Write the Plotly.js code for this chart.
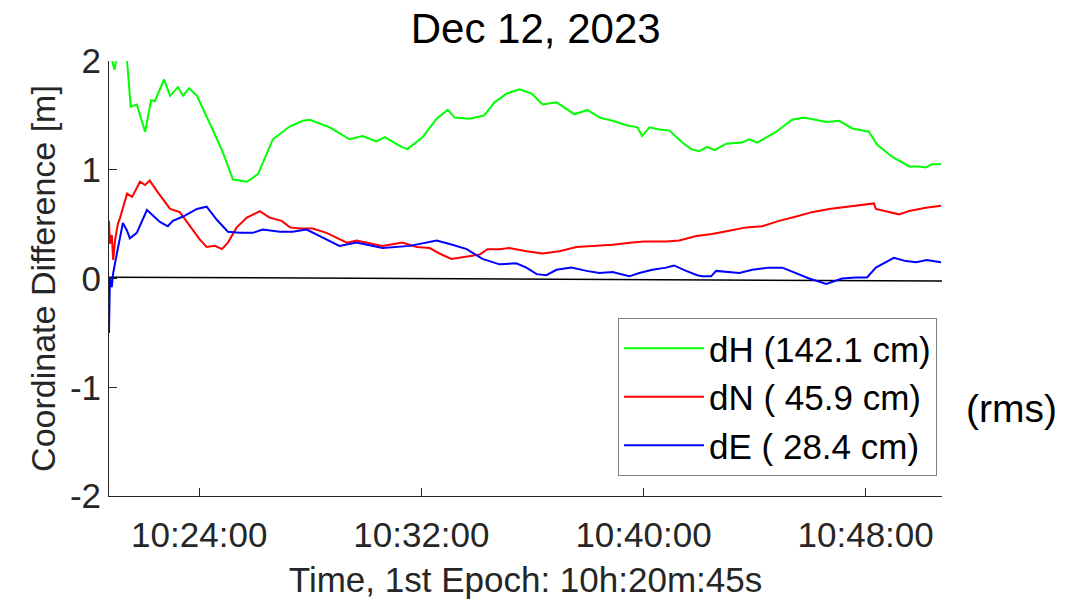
<!DOCTYPE html>
<html>
<head>
<meta charset="utf-8">
<script src="https://cdn.plot.ly/plotly-3.0.1.min.js"></script>
<style>html,body{margin:0;padding:0;background:#fff;}#chart{width:1091px;height:600px;}</style>
</head>
<body>
<div id="chart"></div>
<script>
// Seconds after first epoch (10:20:45) and coordinate differences in metres
const firstEpoch = "10:20:45";
const dateStr = "2023-12-12";

const dH_t = [0, 8, 12, 15, 18, 30, 39, 47, 60, 67, 78, 91, 99, 119, 132, 149, 160, 173, 190, 224, 246, 268, 298, 322, 354, 391, 419, 434, 477, 492, 520, 548, 578, 596, 632, 645, 678, 708, 732, 747, 779, 811, 833, 859, 887, 913, 937, 967, 1006, 1034, 1060, 1088, 1118, 1142, 1152, 1168, 1189, 1211, 1239, 1258, 1275, 1293, 1308, 1334, 1368, 1383, 1401, 1442, 1476, 1502, 1528, 1550, 1578, 1606, 1642, 1660, 1692, 1729, 1750, 1765, 1778, 1798];
const dH_v = [2.2, 1.98, 1.92, 2.0, 2.2, 2.15, 2.0, 1.58, 1.60, 1.50, 1.35, 1.64, 1.63, 1.83, 1.68, 1.76, 1.68, 1.75, 1.68, 1.37, 1.16, 0.91, 0.89, 0.96, 1.28, 1.40, 1.45, 1.46, 1.39, 1.35, 1.28, 1.31, 1.26, 1.30, 1.21, 1.19, 1.30, 1.47, 1.55, 1.48, 1.47, 1.50, 1.62, 1.70, 1.74, 1.70, 1.60, 1.62, 1.51, 1.55, 1.48, 1.45, 1.41, 1.39, 1.31, 1.39, 1.37, 1.36, 1.25, 1.19, 1.17, 1.21, 1.18, 1.24, 1.25, 1.28, 1.25, 1.35, 1.46, 1.48, 1.46, 1.44, 1.45, 1.38, 1.35, 1.23, 1.12, 1.03, 1.03, 1.02, 1.05, 1.05];

const dN_t = [0, 2, 6, 9, 13, 19, 24, 39, 50, 67, 78, 88, 106, 132, 153, 175, 196, 211, 229, 244, 257, 276, 298, 326, 347, 373, 391, 412, 440, 470, 514, 535, 557, 591, 634, 665, 693, 714, 740, 773, 801, 818, 844, 865, 902, 937, 973, 1010, 1045, 1088, 1131, 1157, 1204, 1232, 1269, 1303, 1340, 1377, 1411, 1448, 1485, 1519, 1556, 1593, 1627, 1653, 1657, 1685, 1707, 1729, 1765, 1798];
const dN_v = [0.53, 0.32, 0.40, 0.17, 0.35, 0.50, 0.56, 0.78, 0.75, 0.89, 0.86, 0.90, 0.79, 0.64, 0.61, 0.48, 0.36, 0.29, 0.30, 0.27, 0.33, 0.47, 0.56, 0.62, 0.56, 0.53, 0.47, 0.46, 0.46, 0.42, 0.33, 0.35, 0.33, 0.30, 0.33, 0.29, 0.28, 0.23, 0.18, 0.20, 0.22, 0.27, 0.27, 0.28, 0.25, 0.23, 0.25, 0.29, 0.30, 0.31, 0.33, 0.34, 0.34, 0.35, 0.39, 0.41, 0.44, 0.47, 0.48, 0.53, 0.57, 0.61, 0.64, 0.66, 0.68, 0.69, 0.64, 0.61, 0.59, 0.62, 0.65, 0.67];

const dE_t = [0, 2, 6, 9, 17, 30, 39, 45, 60, 71, 82, 95, 110, 127, 138, 160, 190, 211, 233, 257, 283, 311, 332, 369, 397, 427, 470, 498, 535, 591, 650, 708, 742, 773, 807, 844, 880, 902, 924, 945, 967, 999, 1032, 1060, 1088, 1124, 1146, 1174, 1204, 1221, 1247, 1271, 1282, 1301, 1312, 1340, 1362, 1390, 1426, 1455, 1485, 1513, 1550, 1584, 1614, 1638, 1657, 1696, 1722, 1744, 1767, 1798];
const dE_v = [-0.50, 0.01, -0.08, 0.05, 0.23, 0.51, 0.44, 0.37, 0.42, 0.53, 0.63, 0.58, 0.52, 0.48, 0.53, 0.57, 0.64, 0.66, 0.54, 0.43, 0.42, 0.42, 0.45, 0.43, 0.43, 0.45, 0.36, 0.30, 0.33, 0.28, 0.30, 0.35, 0.31, 0.27, 0.18, 0.13, 0.14, 0.10, 0.04, 0.03, 0.08, 0.10, 0.07, 0.05, 0.06, 0.02, 0.05, 0.08, 0.10, 0.12, 0.07, 0.03, 0.02, 0.02, 0.07, 0.06, 0.05, 0.08, 0.10, 0.10, 0.05, 0.00, -0.05, 0.00, 0.01, 0.01, 0.10, 0.19, 0.16, 0.15, 0.17, 0.15];

const ref_t = [0, 1800];
const ref_v = [0.012, -0.023];

const seriesNames = ["dH (142.1 cm)", "dN ( 45.9 cm)", "dE ( 28.4 cm)"];
const tickTimes = ["10:24:00", "10:32:00", "10:40:00", "10:48:00"];
const yTicks = [-2, -1, 0, 1, 2];
const yTickText = ["-2", "-1", "0", "1", "2"];

function pad(n){ return (n < 10 ? "0" : "") + n; }
function toDate(sec){
  const p = firstEpoch.split(":").map(Number);
  const tot = p[0]*3600 + p[1]*60 + p[2] + sec;
  const h = Math.floor(tot/3600), m = Math.floor((tot%3600)/60), s = tot%60;
  return dateStr + " " + pad(h) + ":" + pad(m) + ":" + pad(s);
}

const font = "Liberation Sans, Arial, sans-serif";
const traces = [
  {x: ref_t.map(toDate), y: ref_v, mode: "lines", line: {color: "#000000", width: 1.5}, showlegend: false, hoverinfo: "skip"},
  {x: dH_t.map(toDate), y: dH_v, mode: "lines", name: seriesNames[0], line: {color: "#00ff00", width: 2}},
  {x: dN_t.map(toDate), y: dN_v, mode: "lines", name: seriesNames[1], line: {color: "#ff0000", width: 2}},
  {x: dE_t.map(toDate), y: dE_v, mode: "lines", name: seriesNames[2], line: {color: "#0000ff", width: 2}}
];

const layout = {
  width: 1091, height: 600,
  margin: {l: 109, r: 149, t: 61, b: 104},
  paper_bgcolor: "#ffffff", plot_bgcolor: "#ffffff",
  font: {family: font, color: "#262626", size: 35},
  title: {text: "Dec 12, 2023", font: {family: font, size: 42, color: "#000000"}, xref: "container", x: 0.491, yref: "container", y: 0.953, yanchor: "middle"},
  xaxis: {
    type: "date",
    range: [toDate(0), toDate(1800)],
    tickvals: tickTimes.map(t => dateStr + " " + t),
    ticktext: tickTimes,
    ticks: "inside", ticklen: 8, tickcolor: "#262626",
    ticklabelstandoff: 8,
    showline: true, linecolor: "#262626", linewidth: 1,
    showgrid: false, zeroline: false,
    tickfont: {size: 35, color: "#262626"},
    title: {text: "Time, 1st Epoch: 10h:20m:45s", font: {size: 35, color: "#262626"}, standoff: 14}
  },
  yaxis: {
    range: [-2, 2],
    tickvals: yTicks,
    ticktext: yTickText,
    ticks: "inside", ticklen: 8, tickcolor: "#262626",
    showline: true, linecolor: "#262626", linewidth: 1,
    showgrid: false, zeroline: false,
    tickfont: {size: 35, color: "#262626"},
    title: {text: "Coordinate Difference [m]", font: {size: 34, color: "#262626"}, standoff: 3}
  },
  legend: {
    x: 0.994, xanchor: "right", y: 0.046, yanchor: "bottom",
    bgcolor: "#ffffff", bordercolor: "#7f7f7f", borderwidth: 1,
    font: {family: font, size: 35, color: "#000000"},
    itemwidth: 80,
    tracegroupgap: 0
  },
  annotations: [
    {text: "(rms)", xref: "paper", yref: "paper", x: 1.084, y: 0.202, xanchor: "center", yanchor: "middle", showarrow: false, font: {family: font, size: 39, color: "#000000"}}
  ],
  showlegend: true
};

Plotly.newPlot("chart", traces, layout, {displayModeBar: false, staticPlot: true});
</script>
</body>
</html>
